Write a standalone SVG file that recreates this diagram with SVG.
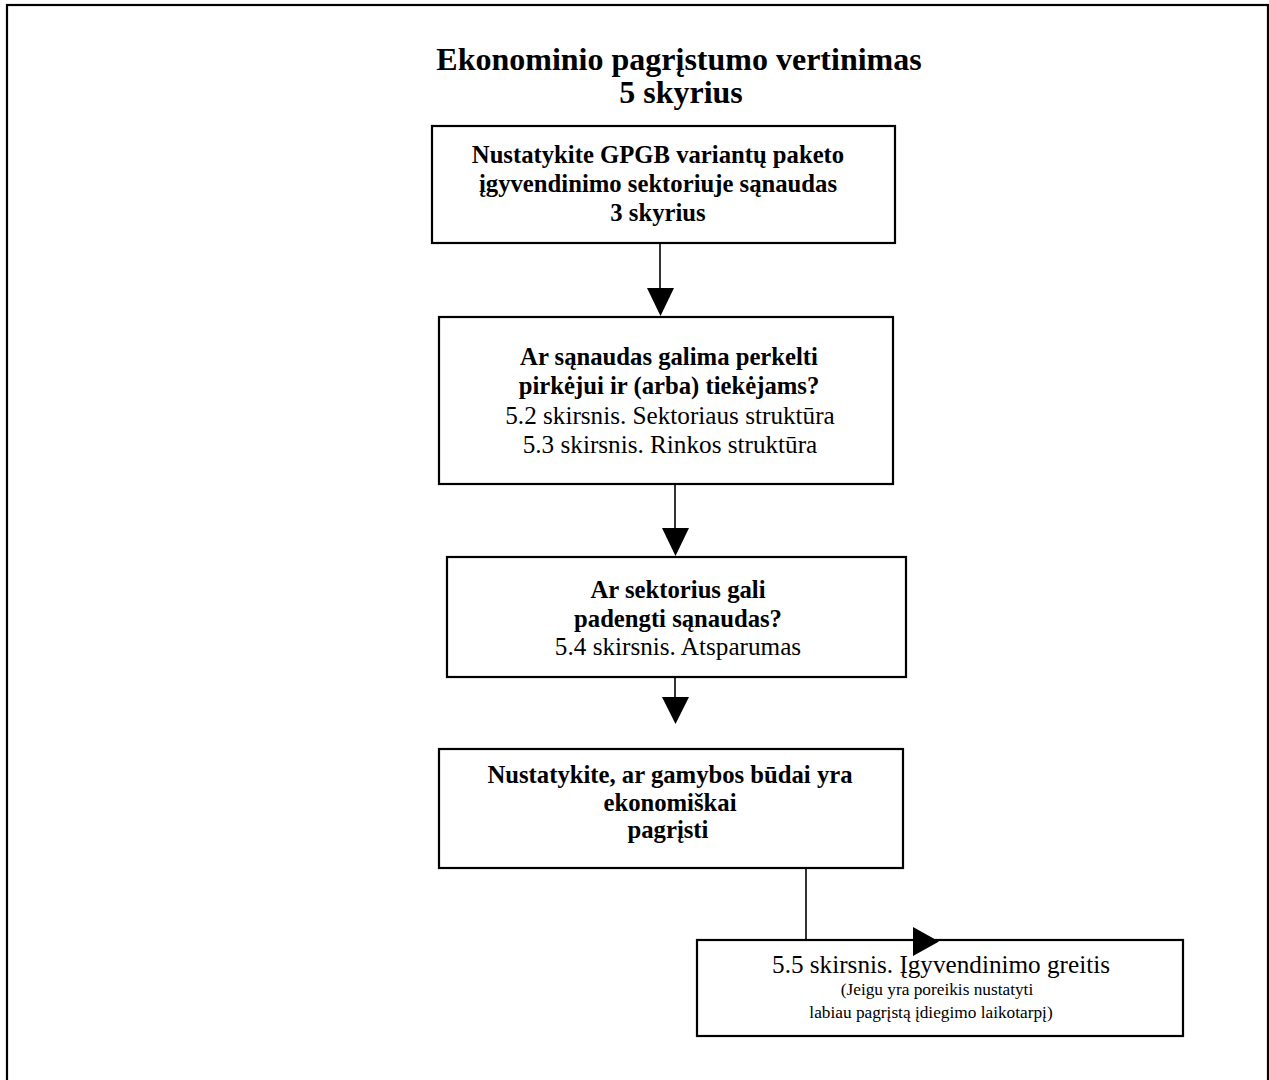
<svg xmlns="http://www.w3.org/2000/svg" width="1269" height="1080" viewBox="0 0 1269 1080">
<style>
.box{fill:#fff;stroke:#000;stroke-width:2.2}
.frame{fill:none;stroke:#000;stroke-width:2.2}
.conn{fill:none;stroke:#000;stroke-width:1.6}
.head{fill:#000;stroke:none}
text{font-family:"Liberation Serif","Times New Roman",serif;fill:#000;text-anchor:middle}
.title{font-size:32px;font-weight:bold}
.b{font-size:24.7px;font-weight:bold}
.r{font-size:25.2px}
.s{font-size:17.3px}
</style>
<rect class="frame" x="7" y="5" width="1261" height="1110"/>
<g id="title">
<text class="title" x="679" y="70">Ekonominio pagrįstumo vertinimas</text>
<text class="title" x="681" y="103">5 skyrius</text>
</g>
<g id="connectors">
<line class="conn" x1="660" y1="243" x2="660" y2="290"/>
<polygon class="head" points="647,288 674,288 660.5,316"/>
<line class="conn" x1="675" y1="484" x2="675" y2="530"/>
<polygon class="head" points="662,528 689,528 675.5,556"/>
<line class="conn" x1="675" y1="677" x2="675" y2="699"/>
<polygon class="head" points="662,697 689,697 675.5,724"/>
<polyline class="conn" points="806,868 806,940 915,940"/>
</g>
<g id="node1">
<rect class="box" x="432" y="126" width="463" height="117"/>
<text class="b" x="658" y="163">Nustatykite GPGB variantų paketo</text>
<text class="b" x="658" y="192">įgyvendinimo sektoriuje sąnaudas</text>
<text class="b" x="658" y="221">3 skyrius</text>
</g>
<g id="node2">
<rect class="box" x="439" y="317" width="454" height="167"/>
<text class="b" x="669" y="365">Ar sąnaudas galima perkelti</text>
<text class="b" x="669" y="394">pirkėjui ir (arba) tiekėjams?</text>
<text class="r" x="670" y="424">5.2 skirsnis. Sektoriaus struktūra</text>
<text class="r" x="670" y="453">5.3 skirsnis. Rinkos struktūra</text>
</g>
<g id="node3">
<rect class="box" x="447" y="557" width="459" height="120"/>
<text class="b" x="678" y="598">Ar sektorius gali</text>
<text class="b" x="678" y="627">padengti sąnaudas?</text>
<text class="r" x="678" y="655">5.4 skirsnis. Atsparumas</text>
</g>
<g id="node4">
<rect class="box" x="439" y="749" width="464" height="119"/>
<text class="b" x="670" y="783">Nustatykite, ar gamybos būdai yra</text>
<text class="b" x="670" y="811">ekonomiškai</text>
<text class="b" x="668" y="838">pagrįsti</text>
</g>
<g id="node5">
<rect class="box" x="697" y="940" width="486" height="96"/>
<text class="r" x="941" y="973">5.5 skirsnis. Įgyvendinimo greitis</text>
<text class="s" x="937" y="995">(Jeigu yra poreikis nustatyti</text>
<text class="s" x="931" y="1018">labiau pagrįstą įdiegimo laikotarpį)</text>
</g>
<polygon class="head" points="913,927 913,956 939,941.5"/>
</svg>
